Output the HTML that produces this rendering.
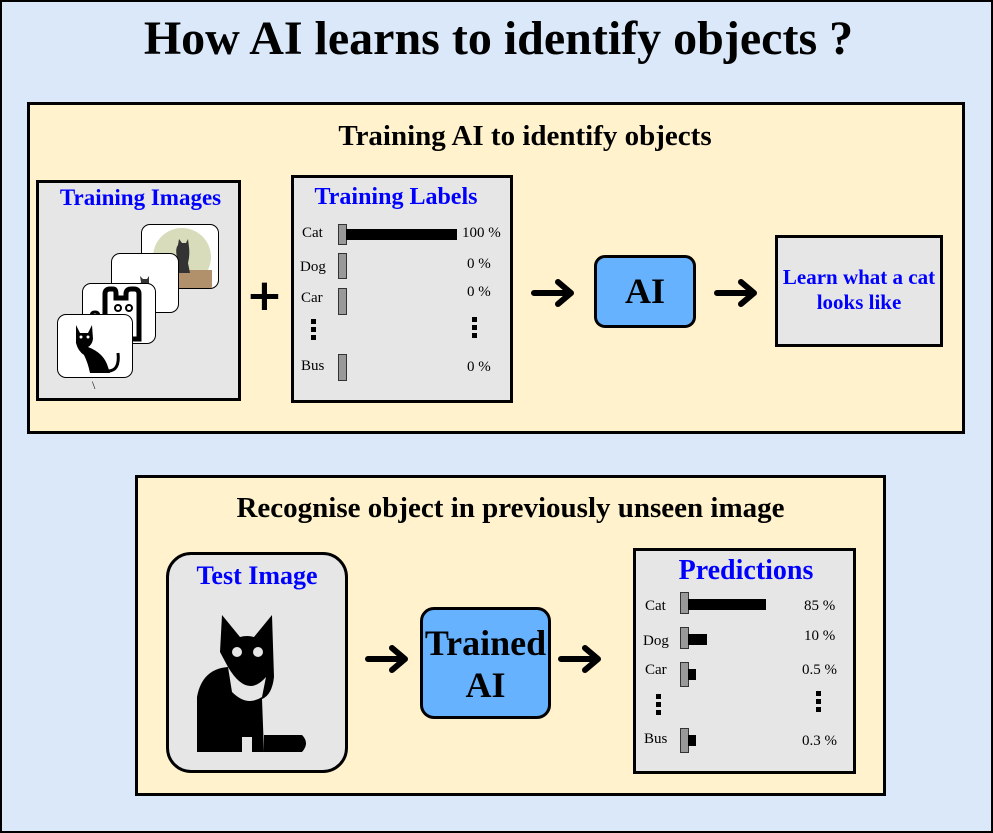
<!DOCTYPE html>
<html><head><meta charset="utf-8"><style>
*{margin:0;padding:0;box-sizing:border-box}
body{width:993px;height:833px;background:#dae8fa;position:relative;overflow:hidden;font-family:"Liberation Serif",serif;border:2px solid #000}
.a{position:absolute}
.panel{position:absolute;background:#fff2cc;border:3px solid #000}
.box{position:absolute;background:#e6e6e6;border:3px solid #000}
.t{position:absolute;text-align:center;font-weight:bold;white-space:nowrap}
.blue{color:#0000ff}
.lbl{position:absolute;font-size:15px}
.g{position:absolute;background:#999;border:1.5px solid #333;width:9px}
.k{position:absolute;background:#000}
.card{position:absolute;background:#fff;border:1.5px solid #000;border-radius:9px;overflow:hidden}
</style></head><body>
<div class="t" style="left:0;width:993px;top:9px;font-size:48px">How AI learns to identify objects ?</div>

<div class="panel" style="left:25px;top:100px;width:938px;height:332px"></div>
<div class="t" style="left:25px;width:996px;top:118px;font-size:29px">Training AI to identify objects</div>

<div class="box" style="left:34px;top:178px;width:205px;height:221px"></div>
<div class="t blue" style="left:36px;width:205px;top:183px;font-size:23px">Training Images</div>
<div class="card" style="left:139px;top:222px;width:78px;height:65px"><svg width="78" height="65"><circle cx="40" cy="32" r="29" fill="#d8dcba"/><rect x="10" y="45" width="60" height="20" fill="#b0916c"/><path d="M35 48 L35 32 Q33 24 36 20 L37 14 L40 18 L44 18 L46 14 L47 22 Q48 30 46 38 L48 48 Z" fill="#333"/></svg></div>
<div class="card" style="left:109px;top:251px;width:68px;height:60px"><svg width="68" height="60"><path d="M26 60 L27 40 Q27 32 29 28 L28 22 L31 25 L35 25 L37 22 L37 30 Q40 40 40 60 Z" fill="#333"/></svg></div>
<div class="card" style="left:80px;top:281px;width:74px;height:61px"><svg width="74" height="61"><path d="M22 55 V10 Q22 5 27 5 H30 Q33 5 33 10 V14 H43 V10 Q43 5 48 5 H51 Q56 5 56 10 V55 H48" fill="none" stroke="#000" stroke-width="5"/><circle cx="35" cy="24" r="3" fill="none" stroke="#000" stroke-width="2"/><circle cx="46" cy="24" r="3" fill="none" stroke="#000" stroke-width="2"/><path d="M8 45 V33 Q8 28 12 28 Q16 28 16 33 V45" fill="none" stroke="#000" stroke-width="3"/></svg></div>
<div class="card" style="left:55px;top:312px;width:76px;height:64px"><svg width="76" height="64"><path d="M18 10 L22 18 L30 18 L34 10 L35 24 Q34 30 30 32 Q46 38 50 52 L52 58 L32 58 Q30 48 26 40 Q20 36 18 28 Z" fill="#000"/><path d="M50 56 Q62 56 60 38" fill="none" stroke="#000" stroke-width="3"/><circle cx="23" cy="22" r="1.5" fill="#fff"/><circle cx="30" cy="22" r="1.5" fill="#fff"/></svg></div>
<div class="a" style="left:90px;top:376px;font-size:12px">\</div>

<div class="t" style="left:244px;width:36px;top:268px;font-size:44px;font-family:'DejaVu Sans',sans-serif">+</div>

<div class="box" style="left:289px;top:173px;width:222px;height:228px"></div>
<div class="t blue" style="left:289px;width:210px;top:182px;font-size:24px">Training Labels</div>
<div class="lbl" style="left:300px;top:223px">Cat</div>
<div class="g" style="left:336px;top:222px;height:21px"></div><div class="k" style="left:344px;top:227px;width:111px;height:11px"></div>
<div class="lbl" style="left:460px;top:223px">100 %</div>
<div class="lbl" style="left:298px;top:257px">Dog</div><div class="g" style="left:336px;top:251px;height:26px"></div>
<div class="lbl" style="left:465px;top:254px">0 %</div>
<div class="lbl" style="left:299px;top:288px">Car</div><div class="g" style="left:336px;top:286px;height:27px"></div>
<div class="lbl" style="left:465px;top:282px">0 %</div>
<div class="lbl" style="left:299px;top:356px">Bus</div><div class="g" style="left:336px;top:352px;height:27px"></div>
<div class="lbl" style="left:465px;top:357px">0 %</div>
<svg class="a" style="left:308px;top:316px" width="8" height="24"><rect x="1" y="1" width="5" height="5" fill="#000"/><rect x="1" y="9" width="5" height="5" fill="#000"/><rect x="1" y="17" width="5" height="5" fill="#000"/></svg>
<svg class="a" style="left:469px;top:314px" width="8" height="24"><rect x="1" y="1" width="5" height="5" fill="#000"/><rect x="1" y="9" width="5" height="5" fill="#000"/><rect x="1" y="17" width="5" height="5" fill="#000"/></svg>

<svg class="a" style="left:528px;top:275px" width="48" height="32"><path d="M4 16 H40 M28 5 L41 16 L28 27" fill="none" stroke="#000" stroke-width="6" stroke-linecap="round" stroke-linejoin="round"/></svg>
<div class="a" style="left:592px;top:253px;width:102px;height:73px;background:#66b2ff;border:3px solid #000;border-radius:11px"></div>
<div class="t" style="left:592px;width:102px;top:268px;font-size:36px">AI</div>
<svg class="a" style="left:711px;top:275px" width="48" height="32"><path d="M4 16 H40 M28 5 L41 16 L28 27" fill="none" stroke="#000" stroke-width="6" stroke-linecap="round" stroke-linejoin="round"/></svg>
<div class="box" style="left:773px;top:233px;width:168px;height:112px"></div>
<div class="t blue" style="left:773px;width:168px;top:263px;font-size:21px;line-height:25px">Learn what a cat<br>looks like</div>

<div class="panel" style="left:133px;top:473px;width:751px;height:321px"></div>
<div class="t" style="left:133px;width:751px;top:490px;font-size:29px">Recognise object in previously unseen image</div>

<div class="box" style="left:164px;top:550px;width:182px;height:221px;border-radius:25px"></div>
<div class="t blue" style="left:164px;width:182px;top:559px;font-size:26px">Test Image</div>
<svg class="a" style="left:190px;top:605px" width="120" height="150"><path d="M30 8 L48 30 Q55 28 62 30 L80 8 L82 70 Q80 88 70 92 L72 145 L60 145 L60 130 L50 130 L50 145 L5 145 L5 90 Q10 62 36 60 L28 45 Z" fill="#000"/><path d="M36 60 Q55 92 74 70 L70 90 Q55 100 40 85 Z" fill="#e6e6e6"/><path d="M72 128 H110 Q118 136 110 145 H72 Z" fill="#000"/><circle cx="45" cy="45" r="5" fill="#e6e6e6"/><circle cx="66" cy="45" r="5" fill="#e6e6e6"/></svg>

<svg class="a" style="left:362px;top:641px" width="48" height="32"><path d="M4 16 H40 M28 5 L41 16 L28 27" fill="none" stroke="#000" stroke-width="6" stroke-linecap="round" stroke-linejoin="round"/></svg>
<div class="a" style="left:418px;top:605px;width:131px;height:112px;background:#66b2ff;border:3px solid #000;border-radius:14px"></div>
<div class="t" style="left:418px;width:131px;top:620px;font-size:36px;line-height:42px">Trained<br>AI</div>
<svg class="a" style="left:555px;top:641px" width="48" height="32"><path d="M4 16 H40 M28 5 L41 16 L28 27" fill="none" stroke="#000" stroke-width="6" stroke-linecap="round" stroke-linejoin="round"/></svg>

<div class="box" style="left:631px;top:546px;width:223px;height:226px"></div>
<div class="t blue" style="left:631px;width:226px;top:553px;font-size:28px">Predictions</div>
<div class="lbl" style="left:643px;top:596px">Cat</div><div class="g" style="left:678px;top:590px;height:22px"></div><div class="k" style="left:686px;top:597px;width:78px;height:11px"></div>
<div class="lbl" style="left:802px;top:596px">85 %</div>
<div class="lbl" style="left:641px;top:631px">Dog</div><div class="g" style="left:678px;top:625px;height:22px"></div><div class="k" style="left:686px;top:632px;width:19px;height:11px"></div>
<div class="lbl" style="left:802px;top:626px">10 %</div>
<div class="lbl" style="left:643px;top:660px">Car</div><div class="g" style="left:678px;top:660px;height:25px"></div><div class="k" style="left:686px;top:667px;width:8px;height:11px"></div>
<div class="lbl" style="left:800px;top:660px">0.5 %</div>
<div class="lbl" style="left:642px;top:729px">Bus</div><div class="g" style="left:678px;top:726px;height:25px"></div><div class="k" style="left:686px;top:733px;width:8px;height:11px"></div>
<div class="lbl" style="left:800px;top:731px">0.3 %</div>
<svg class="a" style="left:653px;top:691px" width="8" height="24"><rect x="1" y="1" width="5" height="5" fill="#000"/><rect x="1" y="9" width="5" height="5" fill="#000"/><rect x="1" y="17" width="5" height="5" fill="#000"/></svg>
<svg class="a" style="left:813px;top:688px" width="8" height="24"><rect x="1" y="1" width="5" height="5" fill="#000"/><rect x="1" y="9" width="5" height="5" fill="#000"/><rect x="1" y="17" width="5" height="5" fill="#000"/></svg>
</body></html>
